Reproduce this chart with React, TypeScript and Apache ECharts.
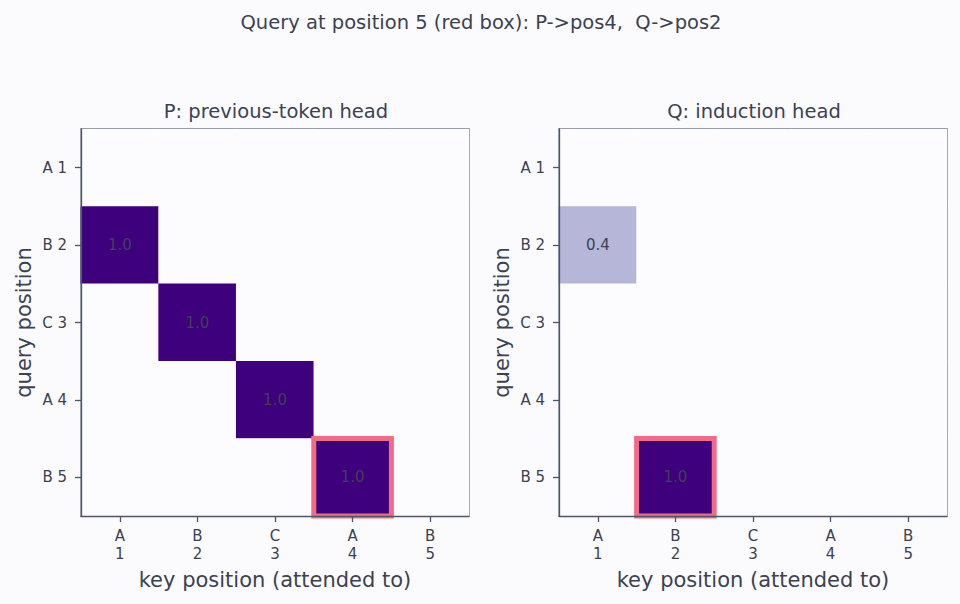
import React, { useEffect, useRef } from "react";
import * as echarts from "echarts";

// Token labels along both axes
const xLabels = ["A\n1", "B\n2", "C\n3", "A\n4", "B\n5"];
const yLabels = ["A 1", "B 2", "C 3", "A 4", "B 5"];

// Attention weights: rows are query positions, columns are key positions
const prevTokenHead = [
  [0, 0, 0, 0, 0],
  [1.0, 0, 0, 0, 0],
  [0, 1.0, 0, 0, 0],
  [0, 0, 1.0, 0, 0],
  [0, 0, 0, 1.0, 0],
];
const inductionHead = [
  [0, 0, 0, 0, 0],
  [0.4, 0, 0, 0, 0],
  [0, 0, 0, 0, 0],
  [0, 0, 0, 0, 0],
  [0, 1.0, 0, 0, 0],
];

// Highlighted cell [key, query] for each panel
const highlightP = [3, 4];
const highlightQ = [1, 4];

const panelTitles = ["P: previous-token head", "Q: induction head"];
const mainTitle = "Query at position 5 (red box): P->pos4,  Q->pos2";

const purples = [
  "#fcfbfd", "#efedf5", "#dadaeb", "#bcbddc", "#9e9ac8",
  "#807dba", "#6a51a3", "#54278f", "#3f007d",
];

const TEXT = "#3b4252";
const AXIS = "#4c566a";
const FONT = "DejaVu Sans";

function toCells(m: number[][]) {
  const out: number[][] = [];
  m.forEach((row, qi) => row.forEach((v, ki) => out.push([ki, qi, v])));
  return out;
}

export default function App() {
  const ref = useRef<HTMLDivElement>(null);

  useEffect(() => {
    document.body.style.margin = "0";
    if (!ref.current) return;
    const chart = echarts.init(ref.current, null, { renderer: "svg" });

    const grids = [
      { left: 81, top: 129, width: 388, height: 387 },
      { left: 559, top: 129, width: 388, height: 387 },
    ];

    const xAxes = grids.map((_, i) => ({
      type: "category" as const,
      gridIndex: i,
      data: xLabels,
      name: "key position (attended to)",
      nameLocation: "middle" as const,
      nameGap: 53,
      nameTextStyle: { color: TEXT, fontSize: 21, fontFamily: FONT },
      axisLine: { show: true, lineStyle: { color: AXIS, width: 1.3 } },
      axisTick: { show: true, alignWithLabel: true, length: 6, lineStyle: { color: AXIS, width: 1.3 } },
      axisLabel: { color: TEXT, fontSize: 15, fontFamily: FONT, lineHeight: 18, margin: 11 },
      splitLine: { show: false },
      z: 10,
    }));

    const yAxes = grids.map((_, i) => ({
      type: "category" as const,
      gridIndex: i,
      data: yLabels,
      inverse: true,
      name: "query position",
      nameLocation: "middle" as const,
      nameGap: 47,
      nameTextStyle: { color: TEXT, fontSize: 21, fontFamily: FONT },
      axisLine: { show: true, lineStyle: { color: AXIS, width: 1.3 } },
      axisTick: { show: true, alignWithLabel: true, length: 6, lineStyle: { color: AXIS, width: 1.3 } },
      axisLabel: { color: TEXT, fontSize: 15, fontFamily: FONT, margin: 14 },
      splitLine: { show: false },
      z: 10,
    }));

    const heat = (data: number[][], i: number) => ({
      type: "heatmap" as const,
      xAxisIndex: i,
      yAxisIndex: i,
      data: toCells(data),
      label: {
        show: true,
        color: TEXT,
        fontSize: 15,
        fontFamily: FONT,
        formatter: (p: any) => (p.value[2] > 0 ? p.value[2].toFixed(1) : ""),
      },
      emphasis: { disabled: true },
      z: 1,
    });

    const box = (cell: number[], i: number) => ({
      type: "custom" as const,
      xAxisIndex: i,
      yAxisIndex: i,
      data: [cell],
      silent: true,
      z: 5,
      renderItem: (_params: any, api: any) => {
        const c = api.coord([api.value(0), api.value(1)]);
        const s = api.size([1, 1]);
        return {
          type: "rect",
          shape: { x: c[0] - s[0] / 2, y: c[1] - s[1] / 2, width: s[0], height: s[1] },
          style: { fill: "none", stroke: "#f06c86", lineWidth: 5 },
        };
      },
    });

    chart.setOption({
      animation: false,
      backgroundColor: "#fbfbfd",
      textStyle: { fontFamily: FONT },
      title: [
        {
          text: mainTitle,
          left: 476,
          top: 7,
          textAlign: "center",
          textStyle: { color: TEXT, fontSize: 19.5, fontWeight: "normal", fontFamily: FONT },
        },
        ...panelTitles.map((t, i) => ({
          text: t,
          left: grids[i].left + grids[i].width / 2 - 4,
          top: 96,
          textAlign: "center",
          textStyle: { color: TEXT, fontSize: 19.5, fontWeight: "normal", fontFamily: FONT },
        })),
      ],
      grid: grids.map((g) => ({
        ...g,
        show: true,
        borderColor: AXIS,
        borderWidth: 1.3,
        backgroundColor: "transparent",
      })),
      xAxis: xAxes,
      yAxis: yAxes,
      visualMap: {
        show: false,
        min: 0,
        max: 1,
        seriesIndex: [0, 1],
        inRange: { color: purples },
      },
      series: [
        heat(prevTokenHead, 0),
        heat(inductionHead, 1),
        box(highlightP, 0),
        box(highlightQ, 1),
      ],
    });

    return () => chart.dispose();
  }, []);

  return <div ref={ref} style={{ width: 960, height: 604 }} />;
}
